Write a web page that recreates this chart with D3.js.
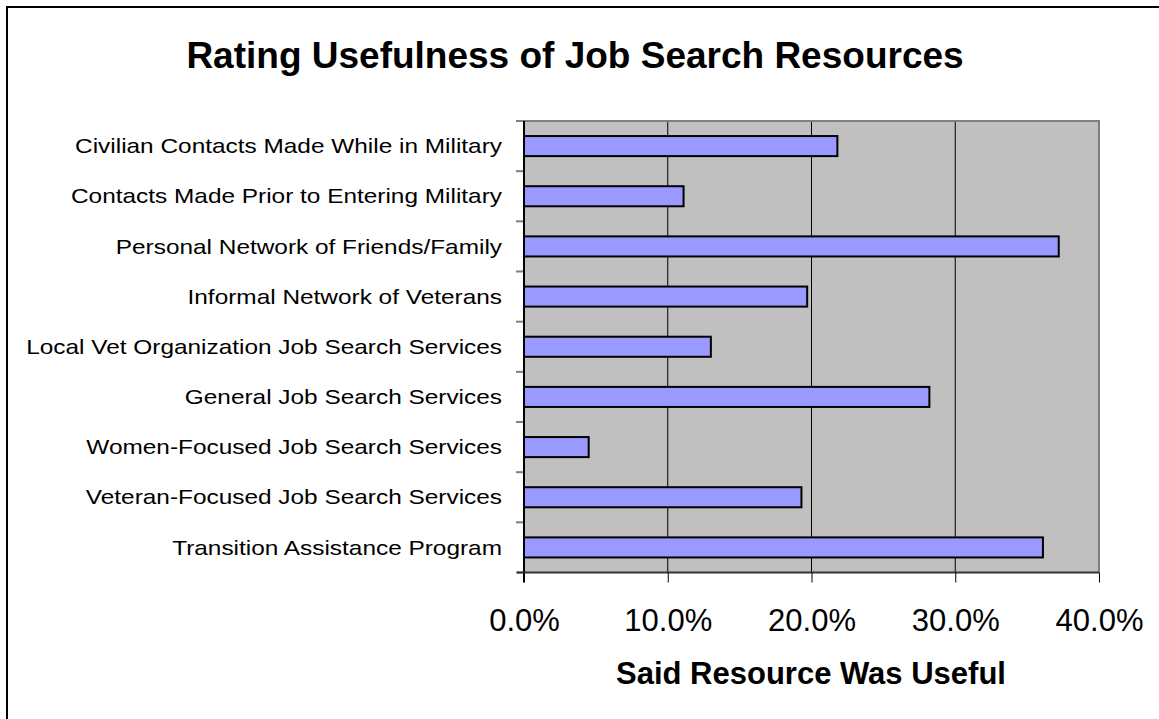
<!DOCTYPE html>
<html>
<head>
<meta charset="utf-8">
<script src="https://cdn.jsdelivr.net/npm/d3@7"></script>
<style>
  html, body { margin: 0; padding: 0; background: #ffffff; }
  svg { display: block; font-family: Arial, "Liberation Sans", sans-serif; }
</style>
</head>
<body>
<svg id="chart" width="1159" height="719"></svg>
<script>
const categories = [
  "Civilian Contacts Made While in Military",
  "Contacts Made Prior to Entering Military",
  "Personal Network of Friends/Family",
  "Informal Network of Veterans",
  "Local Vet Organization Job Search Services",
  "General Job Search Services",
  "Women-Focused Job Search Services",
  "Veteran-Focused Job Search Services",
  "Transition Assistance Program"
];
const values = [0.218, 0.111, 0.372, 0.197, 0.130, 0.282, 0.045, 0.193, 0.361];
const xTicks = [0, 0.1, 0.2, 0.3, 0.4];
const titleText = "Rating Usefulness of Job Search Resources";
const xAxisTitle = "Said Resource Was Useful";

const svg = d3.select("#chart");
const plot = { left: 524, right: 1099, top: 121, bottom: 572.5 };

// outer frame
svg.append("rect")
  .attr("x", 7).attr("y", 7)
  .attr("width", 1154).attr("height", 716)
  .attr("fill", "#fff").attr("stroke", "#000").attr("stroke-width", 2);

const x = d3.scaleLinear().domain([0, 0.4]).range([plot.left, plot.right]);
const y = d3.scaleBand().domain(categories).range([plot.top, plot.bottom])
  .paddingInner(0.6).paddingOuter(0.3);

// plot background
svg.append("rect")
  .attr("x", plot.left).attr("y", plot.top)
  .attr("width", plot.right - plot.left).attr("height", plot.bottom - plot.top)
  .attr("fill", "#C0C0C0");

// gridlines
svg.append("g").selectAll("line")
  .data(xTicks.filter(t => t > 0 && t < 0.4))
  .join("line")
  .attr("x1", d => x(d)).attr("x2", d => x(d))
  .attr("y1", plot.top).attr("y2", plot.bottom)
  .attr("stroke", "#000").attr("stroke-width", 1);

// plot border top/right (grey)
svg.append("path")
  .attr("d", `M${plot.left},${plot.top}H${plot.right}V${plot.bottom}`)
  .attr("fill", "none").attr("stroke", "#808080").attr("stroke-width", 2);

// bars
svg.append("g").selectAll("rect")
  .data(categories)
  .join("rect")
  .attr("x", x(0))
  .attr("y", d => y(d))
  .attr("width", (d, i) => x(values[i]) - x(0))
  .attr("height", y.bandwidth())
  .attr("fill", "#9999FF")
  .attr("stroke", "#000").attr("stroke-width", 2);

// y axis (category boundary ticks)
const bounds = d3.range(categories.length + 1).map(i => plot.top + i * (plot.bottom - plot.top) / categories.length);
svg.append("g").selectAll("line")
  .data(bounds)
  .join("line")
  .attr("x1", plot.left - 8).attr("x2", plot.left)
  .attr("y1", d => d).attr("y2", d => d)
  .attr("stroke", "#808080").attr("stroke-width", 2);
svg.append("line")
  .attr("x1", plot.left).attr("x2", plot.left)
  .attr("y1", plot.top).attr("y2", plot.bottom + 10)
  .attr("stroke", "#000").attr("stroke-width", 2);

// category labels (slightly widened like the reference rendering)
svg.append("g").selectAll("text")
  .data(categories)
  .join("text")
  .attr("transform", d => `translate(502,${y(d) + y.bandwidth() / 2}) scale(1.22,1)`)
  .attr("dy", "0.36em")
  .attr("text-anchor", "end")
  .attr("font-size", 20)
  .attr("fill", "#000")
  .text(d => d);

// x axis
const xAxis = d3.axisBottom(x).tickValues(xTicks)
  .tickFormat(d => (d * 100).toFixed(1) + "%")
  .tickSize(10).tickPadding(26);
const gx = svg.append("g").attr("transform", `translate(0,${plot.bottom})`).call(xAxis);
gx.select(".domain").attr("d", `M${plot.left - 7},0H${plot.right}`).attr("stroke", "#333").attr("stroke-width", 2);
gx.selectAll(".tick line").attr("stroke", "#000").attr("stroke-width", 1);
gx.selectAll(".tick text").attr("font-size", 31).attr("fill", "#000")
  .attr("font-family", "Arial, 'Liberation Sans', sans-serif");

// title
svg.append("text")
  .attr("x", 575).attr("y", 68)
  .attr("text-anchor", "middle")
  .attr("font-size", 37).attr("font-weight", "bold")
  .text(titleText);

// x axis title
svg.append("text")
  .attr("x", 811).attr("y", 684)
  .attr("text-anchor", "middle")
  .attr("font-size", 31).attr("font-weight", "bold")
  .text(xAxisTitle);
</script>
</body>
</html>
